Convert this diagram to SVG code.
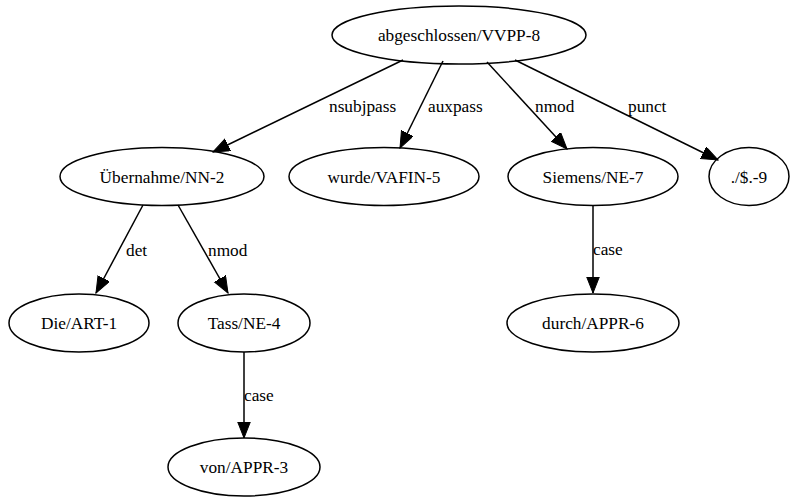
<svg xmlns="http://www.w3.org/2000/svg" width="790" height="497" viewBox="0 0 790 497" font-family="'Liberation Serif', 'Times New Roman', serif">
<defs>
<style>
.n ellipse{fill:none;stroke:#000;stroke-width:1.5}
text{font-family:"Liberation Serif","Times New Roman",serif;font-size:17.3px;fill:#000}
.n text{text-anchor:middle}
.e line{stroke:#000;stroke-width:1.5}
</style>
<marker id="ah" markerUnits="userSpaceOnUse" markerWidth="18" markerHeight="14" refX="16.5" refY="6.5" orient="auto">
<path d="M0,0 L16.5,6.5 L0,13 z" fill="#000" stroke="#000" stroke-width="1"/>
</marker>
</defs>
<rect width="790" height="497" fill="#fff"/>
<g id="edges" class="e">
<line x1="403" y1="60" x2="213" y2="152" marker-end="url(#ah)"/>
<line x1="443" y1="61" x2="400" y2="148" marker-end="url(#ah)"/>
<line x1="487" y1="62" x2="567" y2="149" marker-end="url(#ah)"/>
<line x1="515" y1="60" x2="718" y2="160" marker-end="url(#ah)"/>
<line x1="143" y1="205" x2="96" y2="293" marker-end="url(#ah)"/>
<line x1="178" y1="205" x2="228" y2="293" marker-end="url(#ah)"/>
<line x1="244" y1="352" x2="244" y2="438" marker-end="url(#ah)"/>
<line x1="593" y1="205" x2="593" y2="293" marker-end="url(#ah)"/>
<text x="329" y="112">nsubjpass</text>
<text x="428" y="112">auxpass</text>
<text x="535" y="112">nmod</text>
<text x="628" y="112">punct</text>
<text x="126" y="256">det</text>
<text x="208" y="256">nmod</text>
<text x="244" y="401">case</text>
<text x="593" y="255">case</text>
</g>
<g id="n8" class="n"><ellipse cx="459" cy="35" rx="127" ry="29"/><text x="459" y="41">abgeschlossen/VVPP-8</text></g>
<g id="n2" class="n"><ellipse cx="162" cy="176.5" rx="102" ry="29"/><text x="162" y="182.5">Übernahme/NN-2</text></g>
<g id="n5" class="n"><ellipse cx="384" cy="176.5" rx="95" ry="29"/><text x="384" y="182.5">wurde/VAFIN-5</text></g>
<g id="n7" class="n"><ellipse cx="593" cy="176.5" rx="85" ry="29"/><text x="593" y="182.5">Siemens/NE-7</text></g>
<g id="n9" class="n"><ellipse cx="749" cy="176.5" rx="40" ry="29"/><text x="749" y="182.5">./$.-9</text></g>
<g id="n1" class="n"><ellipse cx="79" cy="323" rx="70" ry="29"/><text x="79" y="329">Die/ART-1</text></g>
<g id="n4" class="n"><ellipse cx="244" cy="323" rx="66" ry="29"/><text x="244" y="329">Tass/NE-4</text></g>
<g id="n6" class="n"><ellipse cx="593" cy="323" rx="86" ry="29"/><text x="593" y="329">durch/APPR-6</text></g>
<g id="n3" class="n"><ellipse cx="244" cy="467" rx="76" ry="29"/><text x="244" y="473">von/APPR-3</text></g>
</svg>
